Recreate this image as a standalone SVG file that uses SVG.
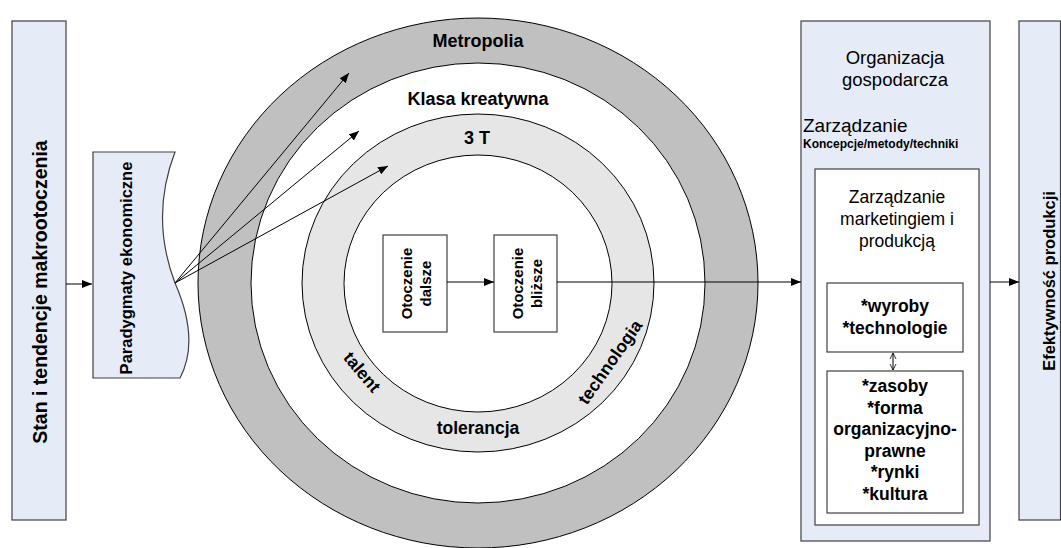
<svg xmlns="http://www.w3.org/2000/svg" width="1061" height="548" viewBox="0 0 1061 548">
<style>
text{font-family:"Liberation Sans",Arial,sans-serif;fill:#000}
.b{font-weight:bold}
.box{fill:#e6ecf7;stroke:#404040;stroke-width:1.2}
.wbox{fill:#fff;stroke:#404040;stroke-width:1.2}
.ring{stroke:#000;stroke-width:1}
.con{stroke:#000;stroke-width:1;fill:none}
</style>
<defs>
<marker id="ah" markerUnits="userSpaceOnUse" markerWidth="11" markerHeight="8" refX="10" refY="4" orient="auto"><path d="M0,0 L10,4 L0,8 z" fill="#000"/></marker>
<marker id="oa" markerUnits="userSpaceOnUse" markerWidth="8" markerHeight="8" refX="6" refY="4" orient="auto-start-reverse"><path d="M0,1 L6,4 L0,7" fill="none" stroke="#000" stroke-width="0.8"/></marker>
</defs>

<g id="metropolia">
<ellipse class="ring" cx="478" cy="283" rx="280" ry="265" fill="#c0c0c0"/>
<text class="b" x="478" y="47" font-size="18" text-anchor="middle">Metropolia</text>
</g>
<g id="klasa-kreatywna">
<ellipse class="ring" cx="478" cy="283" rx="227" ry="220" fill="#fff"/>
<text class="b" x="478" y="105" font-size="18" text-anchor="middle">Klasa kreatywna</text>
</g>
<g id="trzy-t">
<ellipse class="ring" cx="478" cy="283" rx="176" ry="169" fill="#e6e6e6"/>
<ellipse class="ring" cx="478" cy="283.5" rx="134" ry="128.5" fill="#fff"/>
<text class="b" x="477" y="144" font-size="18" text-anchor="middle">3 T</text>
<text class="b" font-size="17.5" text-anchor="middle" transform="translate(362,372) rotate(50)" y="6">talent</text>
<text class="b" x="478" y="434" font-size="17.5" text-anchor="middle">tolerancja</text>
<text class="b" font-size="17.5" text-anchor="middle" transform="translate(610,362) rotate(-55)" y="6">technologia</text>
</g>

<g id="otoczenie-dalsze">
<rect class="wbox" x="383" y="235" width="64" height="97"/>
<text class="b" font-size="15" text-anchor="middle" transform="translate(412,283.5) rotate(-90)">Otoczenie</text>
<text class="b" font-size="15" text-anchor="middle" transform="translate(431,283.5) rotate(-90)">dalsze</text>
</g>
<g id="otoczenie-blizsze">
<rect class="wbox" x="494" y="235" width="63" height="97"/>
<text class="b" font-size="15" text-anchor="middle" transform="translate(523,283.5) rotate(-90)">Otoczenie</text>
<text class="b" font-size="15" text-anchor="middle" transform="translate(542,283.5) rotate(-90)">bliższe</text>
</g>

<g id="stan">
<rect class="box" x="12" y="21" width="54" height="499"/>
<text class="b" font-size="19.5" text-anchor="middle" transform="translate(47,292) rotate(-90)">Stan i tendencje makrootoczenia</text>
</g>

<g id="paradygmaty">
<path class="box" d="M93,152 L175,152 Q150,217 175,283 Q200,340 180,378 L93,378 Z"/>
<text class="b" font-size="16.5" text-anchor="middle" transform="translate(132,268) rotate(-90)">Paradygmaty ekonomiczne</text>
</g>

<g id="organizacja">
<rect class="box" x="801" y="21" width="189" height="520"/>
<text x="895" y="64" font-size="18.5" text-anchor="middle">Organizacja</text>
<text x="895" y="86" font-size="18.5" text-anchor="middle">gospodarcza</text>
<text x="803" y="132" font-size="19">Zarządzanie</text>
<text class="b" x="803" y="148" font-size="12">Koncepcje/metody/techniki</text>
</g>
<g id="zarzadzanie-marketingiem">
<rect class="wbox" x="815" y="169" width="164" height="356"/>
<text x="897" y="203" font-size="17.5" text-anchor="middle">Zarządzanie</text>
<text x="897" y="225" font-size="17.5" text-anchor="middle">marketingiem i</text>
<text x="897" y="247" font-size="17.5" text-anchor="middle">produkcją</text>
</g>
<g id="wyroby">
<rect class="wbox" x="827" y="283" width="136" height="69"/>
<text class="b" x="895" y="312" font-size="17.5" text-anchor="middle">*wyroby</text>
<text class="b" x="895" y="334" font-size="17.5" text-anchor="middle">*technologie</text>
</g>
<g id="zasoby">
<rect class="wbox" x="827" y="371" width="136" height="142"/>
<text class="b" x="895" y="392" font-size="17.5" text-anchor="middle">*zasoby</text>
<text class="b" x="895" y="413.5" font-size="17.5" text-anchor="middle">*forma</text>
<text class="b" x="895" y="435" font-size="17.5" text-anchor="middle">organizacyjno-</text>
<text class="b" x="895" y="456.5" font-size="17.5" text-anchor="middle">prawne</text>
<text class="b" x="895" y="478" font-size="17.5" text-anchor="middle">*rynki</text>
<text class="b" x="895" y="499.5" font-size="17.5" text-anchor="middle">*kultura</text>
</g>

<g id="efektywnosc">
<rect class="box" x="1019" y="21" width="41.5" height="499"/>
<text class="b" font-size="16.5" text-anchor="middle" transform="translate(1055,281) rotate(-90)">Efektywność produkcji</text>
</g>

<g id="connectors">
<line class="con" x1="66" y1="284" x2="92" y2="284" marker-end="url(#ah)"/>
<line class="con" x1="175" y1="283" x2="349" y2="73" marker-end="url(#ah)"/>
<line class="con" x1="175" y1="283" x2="359" y2="131" marker-end="url(#ah)"/>
<line class="con" x1="175" y1="283" x2="388" y2="166" marker-end="url(#ah)"/>
<line class="con" x1="447" y1="282" x2="494" y2="282" marker-end="url(#ah)"/>
<line class="con" x1="557" y1="282" x2="801" y2="282" marker-end="url(#ah)"/>
<line class="con" x1="990" y1="282" x2="1019" y2="282" marker-end="url(#ah)"/>
<line class="con" x1="893" y1="353" x2="893" y2="370" stroke-width="0.8" marker-start="url(#oa)" marker-end="url(#oa)"/>
</g>
</svg>
